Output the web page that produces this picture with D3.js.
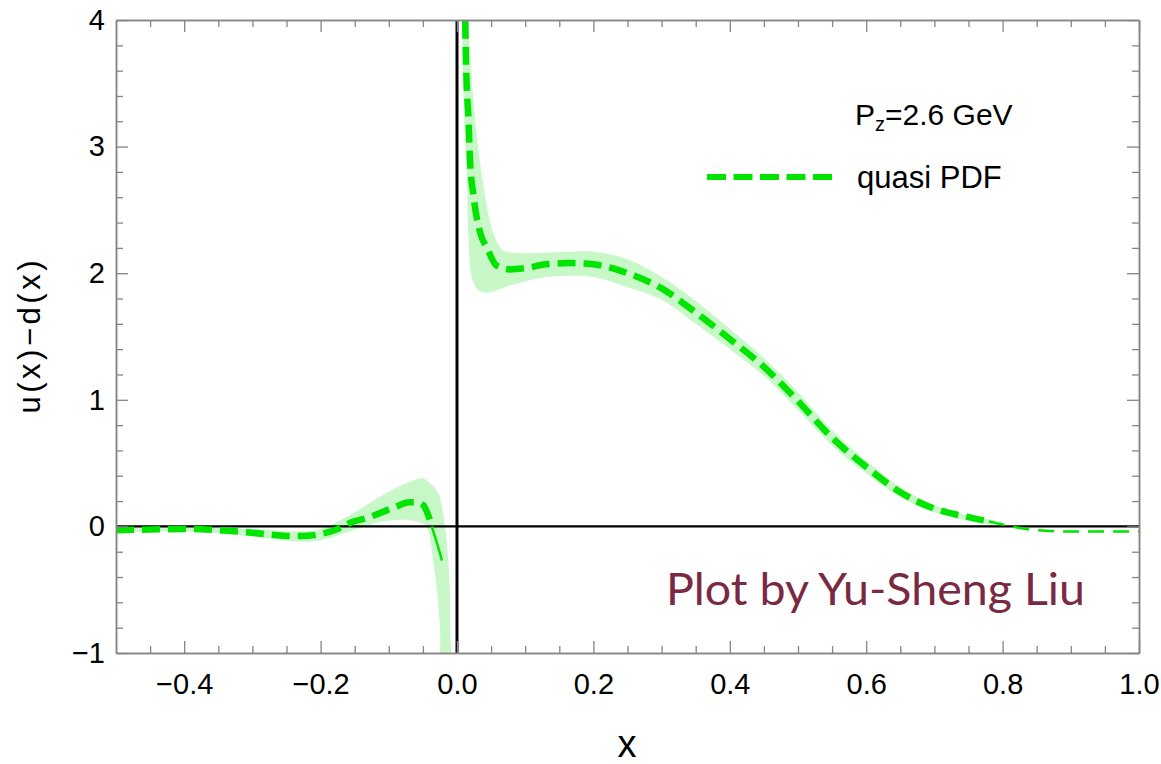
<!DOCTYPE html>
<html>
<head>
<meta charset="utf-8">
<script src="https://cdn.jsdelivr.net/npm/d3@7"></script>
<style>
  body { margin: 0; background: #fff; }
  svg { display: block; }
</style>
</head>
<body>
<svg id="chart"></svg>
<script>
// tick labels
var xMajor = [-0.4, -0.2, 0, 0.2, 0.4, 0.6, 0.8, 1.0];
var xLabels = ["\u22120.4", "\u22120.2", "0.0", "0.2", "0.4", "0.6", "0.8", "1.0"];
var yMajor = [-1, 0, 1, 2, 3, 4];
var yLabels = ["\u22121", "0", "1", "2", "3", "4"];

// central curve, x < 0 (thick dashes, then a thin tail)
var negX = [-0.5, -0.45, -0.4, -0.35, -0.3, -0.25, -0.23, -0.2, -0.17, -0.157, -0.13, -0.108, -0.09, -0.07, -0.06, -0.05, -0.041, -0.037];
var negY = [-0.03, -0.025, -0.02, -0.03, -0.05, -0.075, -0.076, -0.06, -0.01, 0.027, 0.07, 0.116, 0.155, 0.19, 0.19, 0.17, 0.07, 0.0];
var negTailX = [-0.037, -0.03, -0.022];
var negTailY = [0.0, -0.12, -0.27];

// central curve, x > 0
var posX = [0.0115, 0.0135, 0.0152, 0.0166, 0.019, 0.024, 0.034, 0.044, 0.058, 0.078, 0.1, 0.13, 0.166, 0.2, 0.25, 0.3, 0.35, 0.4, 0.45, 0.5, 0.55, 0.6, 0.65, 0.7, 0.74, 0.78];
var posY = [4.2, 3.6, 3.37, 3.25, 2.9, 2.62, 2.32, 2.2, 2.06, 2.03, 2.04, 2.07, 2.08, 2.07, 2.0, 1.88, 1.69, 1.48, 1.26, 0.99, 0.70, 0.47, 0.27, 0.14, 0.085, 0.04];
var posTailX = [0.78, 0.8, 0.85, 0.9, 0.95, 1.0];
var posTailY = [0.04, 0.015, -0.03, -0.04, -0.04, -0.04];

// error band edges
var negBandHiX = [-0.5, -0.4, -0.3, -0.23, -0.2, -0.157, -0.108, -0.07, -0.05, -0.04, -0.0275, -0.0176, -0.0127, -0.0103, -0.0100, -0.0115];
var negBandHiY = [-0.005, 0.0, -0.02, -0.04, -0.02, 0.09, 0.25, 0.35, 0.38, 0.34, 0.26, 0.0, -0.27, -0.53, -0.79, -1.1];
var negBandLoX = [-0.5, -0.4, -0.3, -0.23, -0.2, -0.157, -0.108, -0.07, -0.055, -0.0445, -0.035, -0.029, -0.025, -0.021];
var negBandLoY = [-0.05, -0.04, -0.08, -0.12, -0.11, -0.04, 0.04, 0.05, 0.03, 0.0, -0.27, -0.53, -0.79, -1.1];

var posBandHiX = [0.013, 0.0166, 0.026, 0.038, 0.053, 0.068, 0.09, 0.166, 0.2, 0.25, 0.3, 0.35, 0.4, 0.45, 0.5, 0.55, 0.6, 0.65, 0.7, 0.75, 0.8];
var posBandHiY = [4.5, 4.0, 3.25, 2.72, 2.32, 2.18, 2.16, 2.17, 2.17, 2.11, 1.97, 1.78, 1.56, 1.33, 1.06, 0.76, 0.52, 0.31, 0.17, 0.085, 0.03];
var posBandLoX = [0.006, 0.0075, 0.0105, 0.0147, 0.0165, 0.0225, 0.033, 0.048, 0.065, 0.09, 0.12, 0.166, 0.2, 0.25, 0.3, 0.35, 0.4, 0.45, 0.5, 0.55, 0.6, 0.65, 0.7, 0.75, 0.8];
var posBandLoY = [4.6, 4.0, 3.25, 2.72, 2.32, 1.95, 1.86, 1.85, 1.88, 1.92, 1.96, 1.98, 1.97, 1.89, 1.79, 1.60, 1.40, 1.19, 0.92, 0.64, 0.42, 0.23, 0.11, 0.045, 0.01];

(function () {
  var W = 1161, H = 764;
  var pL = 116, pR = 1139, pT = 20, pB = 653;
  var green = "#00e400", bandFill = "#c8f8c8", frameCol = "#858585";
  var sans = "'Liberation Sans', Arial, sans-serif";

  var svg = d3.select("#chart").attr("width", W).attr("height", H);
  svg.append("rect").attr("width", W).attr("height", H).attr("fill", "#fff");

  var x = d3.scaleLinear().domain([-0.5, 1.0]).range([pL, pR]);
  var y = d3.scaleLinear().domain([-1, 4]).range([pB, pT]);

  function pairs(xs, ys) { return xs.map(function (d, i) { return [d, ys[i]]; }); }

  svg.append("clipPath").attr("id", "plot")
    .append("rect").attr("x", pL).attr("y", pT)
    .attr("width", pR - pL).attr("height", pB - pT);

  var g = svg.append("g").attr("clip-path", "url(#plot)");

  // bands
  var poly = d3.line().x(function (d) { return x(d[0]); }).y(function (d) { return y(d[1]); })
    .curve(d3.curveCatmullRom.alpha(0.5));
  [[negBandHiX, negBandHiY, negBandLoX, negBandLoY], [posBandHiX, posBandHiY, posBandLoX, posBandLoY]]
    .forEach(function (b) {
      var pts = pairs(b[0], b[1]).concat(pairs(b[2], b[3]).reverse());
      g.append("path").attr("d", poly(pts) + "Z").attr("fill", bandFill).attr("stroke", "none");
    });

  // axes through origin
  g.append("line").attr("x1", x(-0.5)).attr("x2", x(1.0)).attr("y1", y(0)).attr("y2", y(0))
    .attr("stroke", "#000").attr("stroke-width", 2.4);
  g.append("line").attr("x1", x(0)).attr("x2", x(0)).attr("y1", y(-1)).attr("y2", y(4))
    .attr("stroke", "#000").attr("stroke-width", 3);

  // curves
  var line = d3.line().x(function (d) { return x(d[0]); }).y(function (d) { return y(d[1]); })
    .curve(d3.curveMonotoneX);
  g.append("path").attr("d", line(pairs(negX, negY)))
    .attr("fill", "none").attr("stroke", green).attr("stroke-width", 6.5).attr("stroke-dasharray", "18,8");
  g.append("path").attr("d", line(pairs(negTailX, negTailY)))
    .attr("fill", "none").attr("stroke", green).attr("stroke-width", 2.5);
  g.append("path").attr("d", line(pairs(posX, posY)))
    .attr("fill", "none").attr("stroke", green).attr("stroke-width", 6.5).attr("stroke-dasharray", "18,8");
  g.append("path").attr("d", line(pairs(posTailX, posTailY)))
    .attr("fill", "none").attr("stroke", green).attr("stroke-width", 2.5).attr("stroke-dasharray", "16,9");

  // frame with inward ticks
  var xMinor = d3.range(-0.45, 1.0, 0.05).filter(function (v) { return Math.abs(Math.round(v * 5) - v * 5) > 1e-6; });
  var yMinor = d3.range(-0.8, 4.0, 0.2).filter(function (v) { return Math.abs(Math.round(v) - v) > 1e-6; });

  function styleAxis(sel) {
    sel.select(".domain").attr("stroke", frameCol).attr("stroke-width", 1.5);
    sel.selectAll(".tick line").attr("stroke", frameCol).attr("stroke-width", 1.3);
    sel.selectAll("text").attr("fill", "#000").attr("font-family", sans).attr("font-size", 29);
  }

  styleAxis(svg.append("g").attr("transform", "translate(0," + pB + ")")
    .call(d3.axisBottom(x).tickValues(xMajor).tickSizeInner(-12).tickSizeOuter(0).tickPadding(20)
      .tickFormat(function (d, i) { return xLabels[i]; })));
  styleAxis(svg.append("g").attr("transform", "translate(0," + pB + ")")
    .call(d3.axisBottom(x).tickValues(xMinor).tickSizeInner(-7).tickSizeOuter(0).tickFormat("")));
  styleAxis(svg.append("g").attr("transform", "translate(0," + pT + ")")
    .call(d3.axisTop(x).tickValues(xMajor).tickSizeInner(-12).tickSizeOuter(0).tickFormat("")));
  styleAxis(svg.append("g").attr("transform", "translate(0," + pT + ")")
    .call(d3.axisTop(x).tickValues(xMinor).tickSizeInner(-7).tickSizeOuter(0).tickFormat("")));

  styleAxis(svg.append("g").attr("transform", "translate(" + pL + ",0)")
    .call(d3.axisLeft(y).tickValues(yMajor).tickSizeInner(-12).tickSizeOuter(0).tickPadding(11)
      .tickFormat(function (d, i) { return yLabels[i]; })));
  styleAxis(svg.append("g").attr("transform", "translate(" + pL + ",0)")
    .call(d3.axisLeft(y).tickValues(yMinor).tickSizeInner(-7).tickSizeOuter(0).tickFormat("")));
  styleAxis(svg.append("g").attr("transform", "translate(" + pR + ",0)")
    .call(d3.axisRight(y).tickValues(yMajor).tickSizeInner(-12).tickSizeOuter(0).tickFormat("")));
  styleAxis(svg.append("g").attr("transform", "translate(" + pR + ",0)")
    .call(d3.axisRight(y).tickValues(yMinor).tickSizeInner(-7).tickSizeOuter(0).tickFormat("")));

  // axis titles
  svg.append("text").attr("x", 627).attr("y", 757).attr("text-anchor", "middle")
    .attr("font-family", sans).attr("font-size", 38).text("x");
  svg.append("text").attr("transform", "translate(40,337) rotate(-90)").attr("text-anchor", "middle")
    .attr("font-family", sans).attr("font-size", 31)
    .attr("textLength", 153).attr("lengthAdjust", "spacing").text("u(x)\u2212d(x)");

  // legend
  var lt = svg.append("text").attr("x", 855).attr("y", 125)
    .attr("font-family", sans).attr("font-size", 30);
  lt.append("tspan").text("P");
  lt.append("tspan").attr("font-size", 20).attr("dy", 6).text("z");
  lt.append("tspan").attr("dy", -6).text("=2.6 GeV");

  svg.append("line").attr("x1", 707).attr("x2", 832).attr("y1", 177).attr("y2", 177)
    .attr("stroke", green).attr("stroke-width", 6).attr("stroke-dasharray", "19,7.5");
  svg.append("text").attr("x", 857).attr("y", 188)
    .attr("font-family", sans).attr("font-size", 31)
    .text("quasi PDF");

  // watermark
  svg.append("text").attr("x", 666).attr("y", 605)
    .attr("font-family", "Lato, 'Open Sans', sans-serif").attr("font-size", 44)
    .attr("fill", "#7a2942").attr("textLength", 419).attr("lengthAdjust", "spacingAndGlyphs")
    .text("Plot by Yu-Sheng Liu");
})();
</script>
</body>
</html>
